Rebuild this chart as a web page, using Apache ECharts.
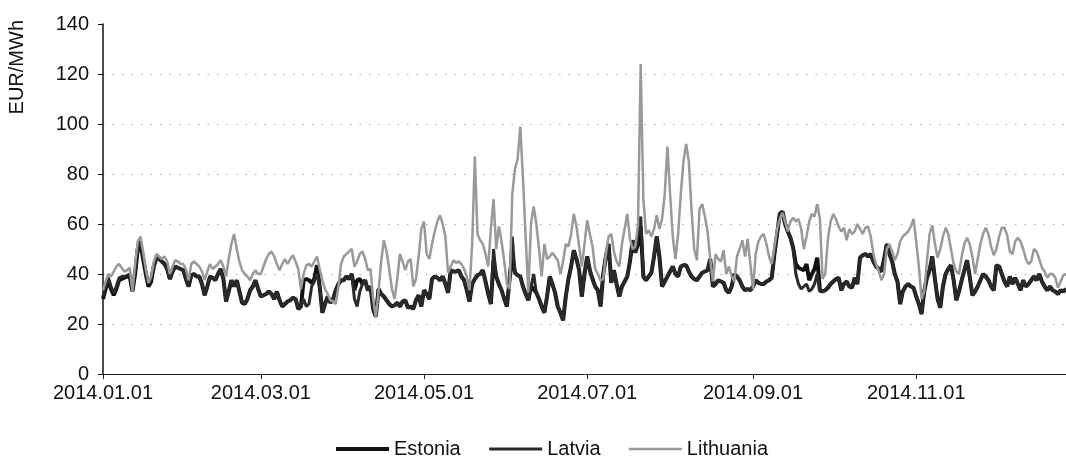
<!DOCTYPE html>
<html>
<head>
<meta charset="utf-8">
<script src="https://cdn.jsdelivr.net/npm/echarts@6/dist/echarts.min.js"></script>
<style>
  html, body { margin: 0; padding: 0; background: #fff; }
  #chart { width: 1066px; height: 456px; }
</style>
</head>
<body>
<div id="chart"></div>
<script>
// daily prices 2014.01.01 .. 2014.12.27, EUR/MWh
const tickLabels = ['2014.01.01', '2014.03.01', '2014.05.01', '2014.07.01', '2014.09.01', '2014.11.01'];
const seriesNames = ['Estonia', 'Latvia', 'Lithuania'];

const estonia = [
  30, 34, 37.5, 34, 31.5, 34, 37.5, 38, 38.5, 39,
  39, 33, 40, 50, 52, 46, 40, 35, 37, 43,
  46.5, 46, 45, 44, 42, 38, 41, 43, 42.5, 42,
  41.5, 38, 35, 39.5, 40, 39, 39, 36, 31.5, 35,
  39, 38.5, 37.5, 40, 42, 38, 29, 33, 37.5, 35,
  37.5, 33, 28.5, 28, 30, 33.5, 35, 37.5, 34, 31,
  31.5, 32, 33, 32, 30, 33, 29.5, 27, 28, 29,
  29.5, 30.5, 30, 26, 27, 37.5, 38, 37.5, 36.5, 38,
  43.5, 35, 24.5, 28, 31, 28.5, 30, 33.5, 36, 37.5,
  37.5, 39, 38, 40, 33.5, 37.5, 38, 36, 37.5, 33.5,
  35, 26, 23, 34, 32, 31, 29.5, 28, 27, 27.5,
  28.5, 27, 29, 29.5, 26.5, 27, 26, 29.5, 31.5, 27,
  33.5, 32, 30, 38, 39, 38.5, 37.5, 39, 36, 32.5,
  41.5, 41, 41, 41.5, 39, 37.5, 33.5, 29, 36, 38,
  39.5, 40, 41.5, 37, 32, 28, 45.5, 39, 36, 33.5,
  30, 27, 38, 48, 40.5, 39.5, 39, 35, 32, 29.5,
  35, 34, 32.5, 30, 27, 24.5, 31, 39, 36, 32.5,
  27, 24.5, 21.5, 31, 38, 43, 49.5, 46, 41.5, 31,
  40, 47, 41.5, 38, 35, 33.5, 27, 40, 47, 52,
  36.5, 41.5, 36, 31, 35, 37, 39, 45, 53.5, 48.5,
  52, 59, 39, 37.5, 39, 40.5, 47, 55, 47, 35,
  37, 39, 41, 43, 40, 39, 43, 43.5, 43.5, 41,
  39, 38, 37.5, 39, 40.5, 41, 41.5, 46, 35, 36,
  37.5, 37, 36.5, 33.5, 32.5, 35, 40, 39, 37.5, 35,
  33.5, 34, 33.5, 35, 37.5, 36.5, 36, 36, 37, 37.5,
  38.5, 48, 56, 64, 65, 60, 57, 54.5, 50.5, 44,
  42.5, 42, 41.5, 44, 37.5, 40, 42, 46.5, 33.5, 33,
  33.5, 34.5, 36, 37, 38, 38.5, 33.5, 36, 37, 35,
  34.5, 38.5, 36, 46.5, 47.5, 48, 47, 48, 45, 43,
  42, 41, 46, 52, 48, 45, 40, 37, 28, 33,
  35, 36, 35, 34.5, 31, 28, 24, 33, 38.5, 41.5,
  47, 38, 30, 26.5, 35, 40, 42, 43.5, 37.5, 29.5,
  33, 37.5, 41.5, 45.5, 39, 31.5, 33, 35, 37.5, 40,
  39, 37.5, 35, 33.5, 43.5, 43, 40, 37, 35, 39,
  36, 38.5, 36, 33.5, 37.5, 35, 36, 37.5, 39, 37.5,
  40, 37, 35, 33.5, 35, 33.5, 33, 32, 33.5, 33,
  34
];

const latvia = [
  31, 35, 38.5, 35, 32.5, 35, 38.5, 39, 39, 39.5,
  40, 34, 41, 51, 53, 47, 41, 36, 38, 44,
  46.5, 46, 45, 44, 42, 38, 41, 43, 42.5, 42,
  41.5, 38, 35, 39.5, 40, 39, 39, 36, 31.5, 35,
  39, 38.5, 37.5, 40, 42, 38, 29, 33, 37.5, 35,
  37.5, 33, 28.5, 28, 30, 33.5, 35, 37.5, 34, 31,
  31.5, 32, 33, 32, 30, 33, 29.5, 27, 28, 29,
  29.5, 30.5, 30, 26, 27, 30, 27, 28, 35, 37,
  40, 35, 24.5, 28, 31, 28.5, 30, 33.5, 36, 37.5,
  37.5, 39, 38, 40, 30, 27, 33, 36, 37.5, 33.5,
  35, 26, 23, 34, 32, 31, 29.5, 28, 27, 27.5,
  28.5, 27, 29, 29.5, 26.5, 27, 26, 29.5, 31.5, 27,
  33.5, 32, 30, 38, 39, 38.5, 37.5, 39, 36, 32.5,
  41.5, 41, 41, 41.5, 39, 37.5, 33.5, 29, 36, 38,
  39.5, 40, 41.5, 37, 32, 28, 50, 39, 36, 33.5,
  30, 27, 38, 55, 40.5, 39.5, 39, 35, 32, 29.5,
  35, 40, 32.5, 30, 27, 24.5, 31, 39, 36, 32.5,
  27, 24.5, 21.5, 31, 38, 43, 49.5, 46, 41.5, 31,
  40, 47, 41.5, 38, 35, 33.5, 27, 40, 47, 52,
  36.5, 41.5, 36, 31, 35, 37, 39, 45, 53.5, 48.5,
  56, 63, 39, 37.5, 39, 40.5, 47, 55, 47, 35,
  37, 39, 41, 43, 40, 39, 43, 43.5, 43.5, 41,
  39, 38, 37.5, 39, 40.5, 41, 41.5, 46, 35, 36,
  37.5, 37, 36.5, 33.5, 32.5, 35, 40, 39, 37.5, 35,
  33.5, 34, 33.5, 35, 37.5, 36.5, 36, 36, 37, 37.5,
  38.5, 48, 56, 64, 65, 60, 57, 54.5, 50.5, 40,
  36, 34, 35, 36, 33, 34, 36, 40, 33, 33,
  33.5, 34.5, 36, 37, 38, 38.5, 33.5, 36, 37, 35,
  34.5, 38.5, 36, 46.5, 47.5, 48, 47, 48, 45, 43,
  42, 41, 46, 52, 48, 45, 40, 37, 28, 33,
  35, 36, 35, 34.5, 31, 28, 24, 33, 38.5, 41.5,
  47, 38, 30, 26.5, 35, 40, 42, 43.5, 37.5, 29.5,
  33, 37.5, 41.5, 45.5, 39, 31.5, 33, 35, 37.5, 40,
  39, 37.5, 35, 33.5, 43.5, 43, 40, 37, 35, 39,
  36, 38.5, 36, 33.5, 37.5, 35, 36, 37.5, 39, 37.5,
  40, 37, 35, 33.5, 35, 33.5, 33, 32, 33.5, 33,
  34
];

const lithuania = [
  33.5, 37, 40, 39, 41, 43, 44, 42.5, 41, 41.5,
  42.5, 33, 44, 53, 55, 49, 42, 36.5, 39, 45,
  48, 47, 46, 47, 45, 40, 43, 45.5, 45, 44,
  44, 42, 37.5, 44, 45, 44, 43, 41, 37.5, 41,
  44, 42, 43, 44, 45.5, 43, 39, 46, 52, 56,
  50, 45, 41.5, 40, 39, 37.5, 40, 41.5, 40, 40,
  43, 46, 48, 49, 47, 44, 41.5, 44, 46, 44,
  46, 47.5, 45, 42, 34, 40, 43.5, 44, 43, 45,
  47, 42, 37.5, 34, 32, 29.5, 29, 28, 35, 44,
  47, 48, 49, 50, 43, 45, 48, 49, 46, 41.5,
  42, 30, 22.5, 33, 45, 53.5, 49, 42, 34, 30,
  38, 48, 45, 41.5, 45, 46, 35, 38, 47, 58,
  61, 48, 46, 52, 57, 61, 63.5, 60, 55, 40.5,
  43, 45.5, 44.5, 45, 44, 42, 39, 33.5, 52, 87,
  56, 53.5, 52, 48, 43, 58, 70, 50, 59, 53,
  45, 36, 34, 72, 82, 86, 99, 78, 55, 32.5,
  60, 67, 60, 50, 39, 52, 46, 47, 48.5, 47,
  45.5, 40, 45, 52, 51, 56, 64, 59, 51, 43,
  52, 61.5, 56, 51, 42, 40, 37.5, 38, 48, 55,
  56, 49, 45, 43, 52, 58, 64, 54, 50, 51,
  60, 124, 70, 56, 57.5, 55, 58, 63.5, 58, 62,
  72, 91, 72, 55, 46, 56, 72, 85, 92, 85,
  66, 50, 45.5, 66, 68, 63, 57, 46, 37, 48,
  46, 45, 49.5, 40, 43, 39, 37, 47, 50, 53.5,
  47, 54, 44, 34, 48, 53, 55, 56, 52, 47,
  44, 51, 58, 62, 64.5, 61, 57, 61, 62.5, 61,
  62, 58, 50, 55, 61, 64, 63, 68, 62, 38,
  40, 54, 61, 64, 62, 59, 57, 58.5, 53.5, 58,
  56, 57, 60, 58, 56, 58.5, 59, 55, 48, 44,
  41, 37.5, 40, 50, 52, 49, 45.5, 48, 53, 55,
  56, 57, 59, 62, 53, 43, 30, 33, 45, 56,
  59.5, 52, 46.5, 50, 55, 58.5, 56, 50, 44, 41,
  40, 47, 52, 54.5, 52, 47, 40, 46, 52, 56,
  58.5, 56, 51, 47.5, 50, 55, 58.5, 58.5, 55.5, 49,
  48, 53, 54.5, 53, 50, 46, 44, 45, 50, 49,
  46, 42.5, 41, 38.5, 40, 40, 38.5, 34.5, 37, 39.5,
  40
];

// one category per day
const days = [];
for (let i = 0; i < estonia.length; i++) {
  const d = new Date(2014, 0, 1 + i);
  const mm = String(d.getMonth() + 1).padStart(2, '0');
  const dd = String(d.getDate()).padStart(2, '0');
  days.push(d.getFullYear() + '.' + mm + '.' + dd);
}

const font = 'Liberation Sans, Arial, sans-serif';
const showTick = (idx, val) => tickLabels.indexOf(val) !== -1;
const legendWidths = [4, 3, 2.5];

const myChart = echarts.init(document.getElementById('chart'));

const options = {
  animation: false,
  backgroundColor: '#fff',
  textStyle: { fontFamily: font },
  grid: {
    left: 103,
    right: 0,
    top: 24,
    bottom: 82,
    containLabel: false,
  },
  legend: {
    data: seriesNames.map((name, i) => ({ name: name, lineStyle: { width: legendWidths[i] } })),
    left: 329,
    top: 434,
    itemWidth: 53,
    itemHeight: 12,
    itemGap: 27,
    itemStyle: { opacity: 0 },
    textStyle: { fontSize: 20, color: '#111', fontFamily: font },
  },
  graphic: [
    {
      type: 'text',
      left: 7,
      top: 20,
      rotation: Math.PI / 2,
      style: { text: 'EUR/MWh', fontSize: 20, fontFamily: font, fill: '#111' },
    },
  ],
  xAxis: {
    type: 'category',
    boundaryGap: false,
    data: days,
    axisLine: { lineStyle: { color: '#222', width: 1 } },
    axisTick: { interval: showTick, length: 5, lineStyle: { color: '#222' } },
    axisLabel: {
      interval: showTick,
      margin: 9,
      fontSize: 20,
      color: '#111',
      fontFamily: font,
    },
    splitLine: { show: false },
  },
  yAxis: {
    type: 'value',
    min: 0,
    max: 140,
    interval: 20,
    axisLine: { show: true, lineStyle: { color: '#111', width: 1.5 } },
    axisTick: { show: true, length: 5, lineStyle: { color: '#111' } },
    axisLabel: { margin: 14, fontSize: 20, color: '#111', fontFamily: font },
    splitLine: {
      show: true,
      showMinLine: false,
      showMaxLine: false,
      lineStyle: { color: '#aaa', width: 1, type: [1.5, 8] },
    },
  },
  series: [
    {
      name: 'Estonia',
      type: 'line',
      data: estonia,
      symbol: 'none',
      lineStyle: { color: '#111', width: 4 },
      itemStyle: { color: '#111' },
    },
    {
      name: 'Latvia',
      type: 'line',
      data: latvia,
      symbol: 'none',
      lineStyle: { color: '#2a2a2a', width: 3 },
      itemStyle: { color: '#2a2a2a' },
    },
    {
      name: 'Lithuania',
      type: 'line',
      data: lithuania,
      symbol: 'none',
      lineStyle: { color: '#999', width: 2.5 },
      itemStyle: { color: '#999' },
    },
  ],
};

myChart.setOption(options);
</script>
</body>
</html>
